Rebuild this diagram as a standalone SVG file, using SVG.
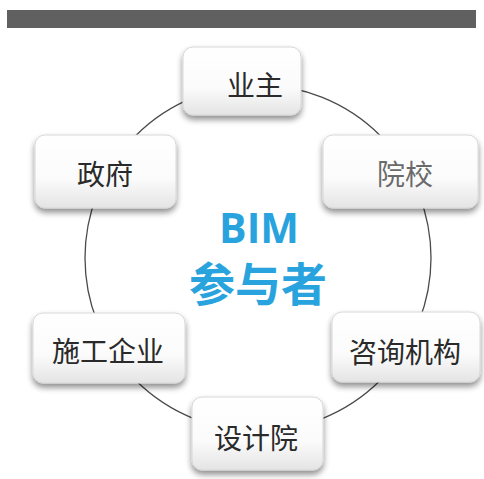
<svg xmlns="http://www.w3.org/2000/svg" width="484" height="479" viewBox="0 0 484 479">
<defs>
<linearGradient id="bg" x1="0" y1="0" x2="0" y2="1">
<stop offset="0" stop-color="#ffffff"/>
<stop offset="0.6" stop-color="#fbfbfb"/>
<stop offset="1" stop-color="#e4e4e4"/>
</linearGradient>
<filter id="sh" x="-20%" y="-20%" width="140%" height="150%">
<feGaussianBlur in="SourceAlpha" stdDeviation="3"/>
<feOffset dx="0" dy="4" result="b"/>
<feComponentTransfer><feFuncA type="linear" slope="0.45"/></feComponentTransfer>
<feMerge><feMergeNode/><feMergeNode in="SourceGraphic"/></feMerge>
</filter>
</defs>
<style>
.box{fill:url(#bg);stroke:#d8d8d8;stroke-width:1;filter:url(#sh)}
.lbl{font-family:"Noto Sans CJK SC","Noto Sans",sans-serif;font-size:28px;fill:#2a2a2a;text-anchor:middle;dominant-baseline:central}
.ring{fill:none;stroke:#4a4a4a;stroke-width:1.3}
.title{font-family:"Open Sans","Noto Sans CJK SC",sans-serif;font-weight:bold;fill:#29a3dd;text-anchor:middle}
</style>
<rect width="484" height="479" fill="#ffffff"/>
<rect x="7" y="10" width="469" height="18" fill="#606060"/>
<g id="connectors">
<circle class="ring" cx="258" cy="258" r="173"/>
</g>
<g id="center">
<text class="title" x="259" y="243" font-size="41">BIM</text>
<text class="title" x="258" y="301" font-size="46" font-family="Noto Sans CJK SC, sans-serif">参与者</text>
</g>
<g id="n-yezhu">
<rect class="box" x="183" y="47" width="118" height="68" rx="10"/>
<text class="lbl" x="255" y="84">业主</text>
</g>
<g id="n-zhengfu">
<rect class="box" x="35" y="135" width="141" height="73" rx="10"/>
<text class="lbl" x="105" y="173">政府</text>
</g>
<g id="n-yuanxiao">
<rect class="box" x="323" y="135" width="155" height="73" rx="10"/>
<text class="lbl" x="405" y="173" style="fill:#6a6a6a">院校</text>
</g>
<g id="n-shigong">
<rect class="box" x="33" y="313" width="152" height="70" rx="10"/>
<text class="lbl" x="108" y="350">施工企业</text>
</g>
<g id="n-zixun">
<rect class="box" x="332" y="312" width="148" height="70" rx="10"/>
<text class="lbl" x="405" y="351">咨询机构</text>
</g>
<g id="n-sheji">
<rect class="box" x="192" y="397" width="131" height="73" rx="10"/>
<text class="lbl" x="256" y="437">设计院</text>
</g>
</svg>
